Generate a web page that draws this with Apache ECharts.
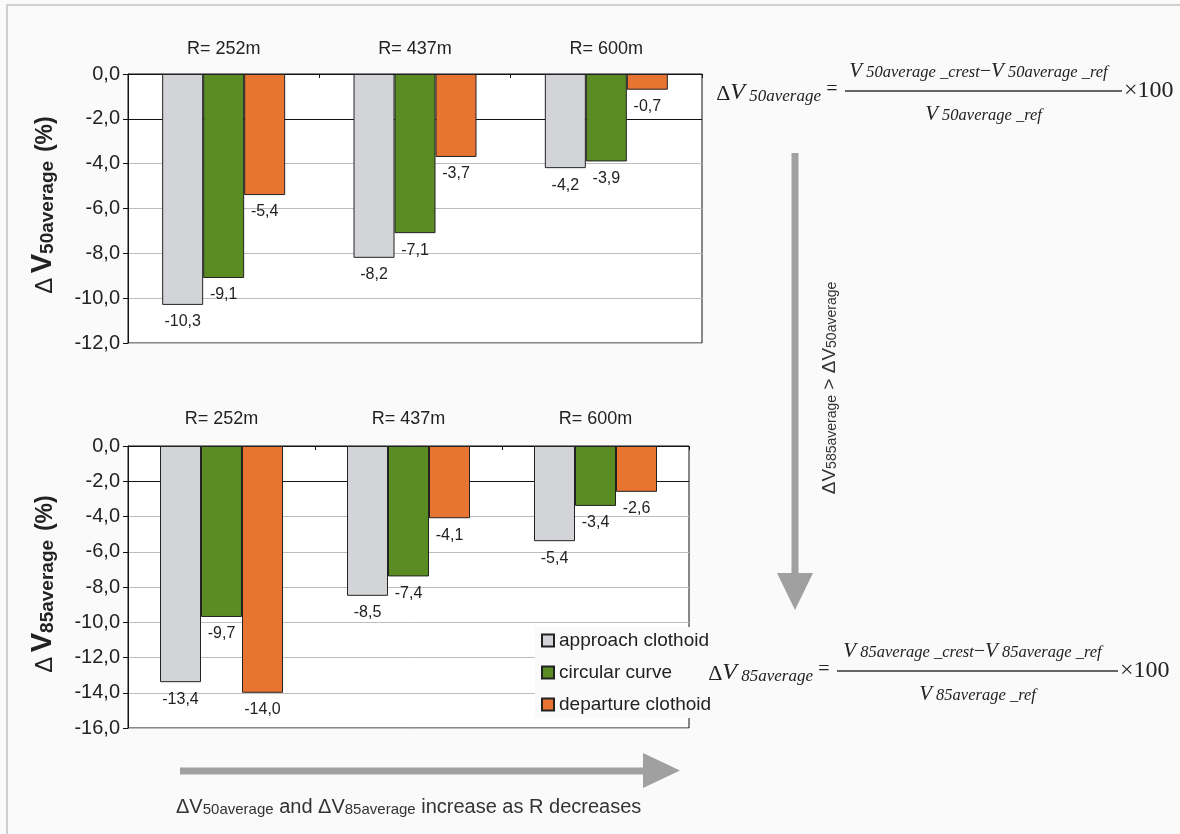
<!DOCTYPE html>
<html>
<head>
<meta charset="utf-8">
<script src="https://cdn.jsdelivr.net/npm/echarts@6/dist/echarts.min.js"></script>
<style>
  html, body { margin: 0; padding: 0; background: #fafafa; }
  #chart { width: 1180px; height: 834px; }
</style>
</head>
<body>
<div id="chart"></div>
<script>
// ---- data ----
const categories = ['R= 252m', 'R= 437m', 'R= 600m'];
const seriesNames = ['approach clothoid', 'circular curve', 'departure clothoid'];
const v50Approach = [-10.3, -8.2, -4.2];
const v50Circular = [-9.1, -7.1, -3.9];
const v50Departure = [-5.4, -3.7, -0.7];
const v85Approach = [-13.4, -8.5, -5.4];
const v85Circular = [-9.7, -7.4, -3.4];
const v85Departure = [-14.0, -4.1, -2.6];
const topAxisRange = [-12, 0];
const bottomAxisRange = [-16, 0];

// ---- styles ----
const colors = ['#d3d4d7', '#5a8c23', '#e87432'];
const fmt = v => Number(v).toFixed(1).replace('.', ',');
const FONT = 'Arial, "Liberation Sans", sans-serif';
const SERIF = '"Times New Roman", "Liberation Serif", serif';

function splitColors(min, max, step) {
  const arr = [];
  for (let v = min; v <= max + 1e-9; v += step) arr.push(Math.abs(v + 2) < 1e-9 ? '#111' : '#bdbdbd');
  return arr;
}

function xAxisCfg(gridIndex, margin) {
  return {
    type: 'category', gridIndex, data: categories, position: 'top',
    axisLine: { show: true, lineStyle: { color: '#111', width: 1 } },
    axisTick: { show: true, inside: true, length: 4, lineStyle: { color: '#111' } },
    axisLabel: { margin, fontSize: 18, color: '#222', fontFamily: FONT },
    splitLine: { show: false }
  };
}
function yAxisCfg(gridIndex, range) {
  return {
    type: 'value', gridIndex, min: range[0], max: range[1], interval: 2,
    axisLine: { show: true, lineStyle: { color: '#111', width: 1 } },
    axisTick: { show: true, length: 5, lineStyle: { color: '#111' } },
    axisLabel: { margin: 8, fontSize: 20, color: '#222', fontFamily: FONT, formatter: fmt },
    splitLine: { show: true, lineStyle: { color: splitColors(range[0], range[1], 2), width: 1 } }
  };
}
function barSeries(name, data, idx, axisIndex) {
  return {
    type: 'bar', name, data, xAxisIndex: axisIndex, yAxisIndex: axisIndex,
    barWidth: 41, barGap: '0%',
    itemStyle: { color: colors[idx], borderColor: '#222', borderWidth: 1 },
    label: { show: true, position: 'bottom', distance: 9, fontSize: 16, color: '#222',
             fontFamily: FONT, formatter: p => fmt(p.value) }
  };
}

// rich text helpers for graphic
function richText(opts) {
  return {
    type: 'text', x: opts.x, y: opts.y, rotation: opts.rotation || 0, z: 20,
    style: {
      text: opts.text, rich: opts.rich, fill: opts.fill || '#222',
      align: opts.align || 'left', verticalAlign: opts.va || 'middle',
      textAlign: opts.align || 'left', textVerticalAlign: opts.va || 'middle',
      font: opts.font || ('16px ' + FONT)
    }
  };
}

const axisTitleRich = {
  d: { fontSize: 24, fontFamily: FONT, fontWeight: 'normal', fill: '#222', verticalAlign: 'bottom', lineHeight: 24 },
  v: { fontSize: 29, fontFamily: FONT, fontWeight: 'bold', fill: '#222', verticalAlign: 'bottom', lineHeight: 26 },
  s: { fontSize: 19, fontFamily: FONT, fontWeight: 'bold', fill: '#222', verticalAlign: 'bottom', lineHeight: 18 },
  p: { fontSize: 23, fontFamily: FONT, fontWeight: 'bold', fill: '#222', verticalAlign: 'bottom', lineHeight: 23 }
};
const formRich = {
  d: { fontSize: 22, fontFamily: SERIF, fill: '#222', verticalAlign: 'bottom', lineHeight: 22 },
  v: { fontSize: 24, fontFamily: SERIF, fontStyle: 'italic', fill: '#222', verticalAlign: 'bottom', lineHeight: 24 },
  s: { fontSize: 17, fontFamily: SERIF, fontStyle: 'italic', fill: '#222', verticalAlign: 'bottom', lineHeight: 15 },
  nv: { fontSize: 21, fontFamily: SERIF, fontStyle: 'italic', fill: '#222', verticalAlign: 'bottom', lineHeight: 21 },
  ns: { fontSize: 16.5, fontFamily: SERIF, fontStyle: 'italic', fill: '#222', verticalAlign: 'bottom', lineHeight: 15 },
  m: { fontSize: 20, fontFamily: SERIF, fill: '#222', verticalAlign: 'bottom', lineHeight: 20 },
  x: { fontSize: 24, fontFamily: SERIF, fill: '#222', verticalAlign: 'bottom', lineHeight: 24 }
};
const noteRich = {
  n: { fontSize: 20, fontFamily: FONT, fill: '#333', verticalAlign: 'bottom', lineHeight: 20 },
  s: { fontSize: 15, fontFamily: FONT, fill: '#333', verticalAlign: 'bottom', lineHeight: 14 }
};
const vnoteRich = {
  n: { fontSize: 19, fontFamily: FONT, fill: '#333', verticalAlign: 'bottom', lineHeight: 19 },
  s: { fontSize: 14, fontFamily: FONT, fill: '#333', verticalAlign: 'bottom', lineHeight: 13 }
};

function formula(sub, yLine, lineX1, lineX2) {
  const cx = (lineX1 + lineX2) / 2;
  return [
    richText({ x: lineX1 - 24, y: yLine + 2, align: 'right', text: '{d|Δ}{v|V}{s| ' + sub + '}', rich: formRich }),
    richText({ x: lineX1 - 13, y: yLine - 1, align: 'center', text: '{m|=}', rich: formRich }),
    { type: 'line', z: 20, shape: { x1: lineX1, y1: yLine, x2: lineX2, y2: yLine }, style: { stroke: '#333', lineWidth: 1.5 } },
    richText({ x: cx - 5, y: yLine - 20, align: 'center',
      text: '{nv|V}{ns| ' + sub + ' _crest}{m|−}{nv|V}{ns| ' + sub + ' _ref}', rich: formRich }),
    richText({ x: cx, y: yLine + 23, align: 'center', text: '{nv|V}{ns| ' + sub + ' _ref}', rich: formRich }),
    richText({ x: lineX2 + 2, y: yLine, align: 'left', text: '{x|×100}', rich: formRich })
  ];
}

const arrowColor = '#a0a0a0';
const graphics = [
  // frame
  { type: 'line', z: 1, shape: { x1: 6, y1: 5, x2: 1180, y2: 5 }, style: { stroke: '#cfcfcf', lineWidth: 2 } },
  { type: 'line', z: 1, shape: { x1: 7, y1: 5, x2: 7, y2: 834 }, style: { stroke: '#cfcfcf', lineWidth: 2 } },
  // axis titles
  richText({ x: 44, y: 205, rotation: Math.PI / 2, align: 'center', text: '{d|Δ} {v|V}{s|50average}  {p|(%)}', rich: axisTitleRich }),
  richText({ x: 44, y: 584, rotation: Math.PI / 2, align: 'center', text: '{d|Δ} {v|V}{s|85average}  {p|(%)}', rich: axisTitleRich }),
  // vertical arrow
  { type: 'rect', z: 5, shape: { x: 791.5, y: 153, width: 7, height: 422 }, style: { fill: arrowColor } },
  { type: 'polygon', z: 5, shape: { points: [[777, 573], [813, 573], [795, 610]] }, style: { fill: arrowColor } },
  richText({ x: 830, y: 388, rotation: Math.PI / 2, align: 'center',
    text: '{n|ΔV}{s|585average}{n| > ΔV}{s|50average}', rich: vnoteRich }),
  // horizontal arrow
  { type: 'rect', z: 5, shape: { x: 180, y: 767.5, width: 465, height: 7 }, style: { fill: arrowColor } },
  { type: 'polygon', z: 5, shape: { points: [[643, 753], [643, 788], [680, 770.5]] }, style: { fill: arrowColor } },
  richText({ x: 176, y: 807, align: 'left',
    text: '{n|ΔV}{s|50average}{n| and ΔV}{s|85average}{n| increase as R decreases}', rich: noteRich })
].concat(formula('50average', 91, 845, 1122))
 .concat(formula('85average', 671, 837, 1118));

const option = {
  animation: false,
  backgroundColor: '#fafafa',
  textStyle: { fontFamily: FONT },
  grid: [
    { left: 128, top: 74, width: 574, height: 269, show: true, backgroundColor: '#ffffff', borderColor: '#111', borderWidth: 1 },
    { left: 128, top: 446, width: 561, height: 282, show: true, backgroundColor: '#ffffff', borderColor: '#111', borderWidth: 1 }
  ],
  xAxis: [xAxisCfg(0, 16), xAxisCfg(1, 18)],
  yAxis: [yAxisCfg(0, topAxisRange), yAxisCfg(1, bottomAxisRange)],
  legend: {
    data: seriesNames, orient: 'vertical', left: 535, top: 627, z: 10,
    itemWidth: 12, itemHeight: 12, itemGap: 13, icon: 'rect',
    backgroundColor: '#fafafa', padding: [4, 8, 4, 6],
    textStyle: { fontSize: 19, color: '#222', fontFamily: FONT }
  },
  series: [
    barSeries(seriesNames[0], v50Approach, 0, 0),
    barSeries(seriesNames[1], v50Circular, 1, 0),
    barSeries(seriesNames[2], v50Departure, 2, 0),
    barSeries(seriesNames[0], v85Approach, 0, 1),
    barSeries(seriesNames[1], v85Circular, 1, 1),
    barSeries(seriesNames[2], v85Departure, 2, 1)
  ],
  graphic: { elements: graphics }
};

const chart = echarts.init(document.getElementById('chart'), null, { renderer: 'canvas' });
chart.setOption(option);
</script>
</body>
</html>
